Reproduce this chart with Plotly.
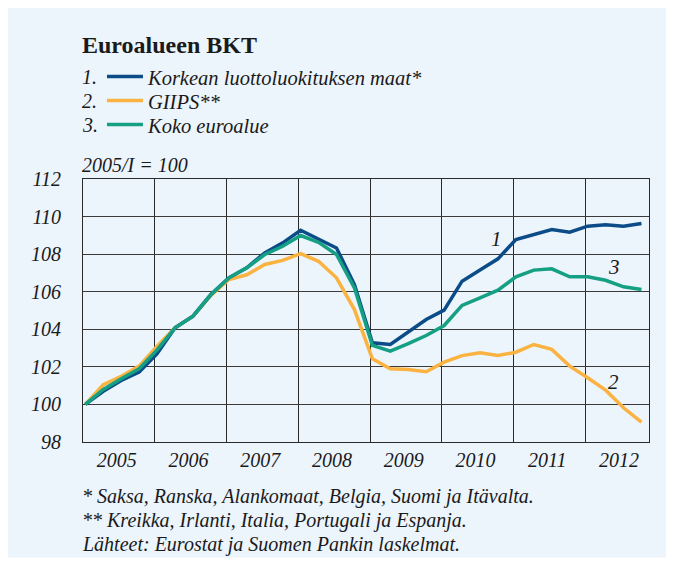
import plotly.graph_objects as go

quarters = list(range(32))  # 2005Q1 ... 2012Q4
years = ["2005", "2006", "2007", "2008", "2009", "2010", "2011", "2012"]

korkea = [100.0, 100.7, 101.28, 101.72, 102.7, 104.08, 104.7, 105.85,
          106.74, 107.27, 108.07, 108.6, 109.27, 108.81, 108.33, 106.38,
          103.28, 103.19, 103.85, 104.52, 105.02, 106.56, 107.15, 107.75,
          108.78, 109.04, 109.31, 109.17, 109.49, 109.56, 109.49, 109.63]
giips = [100.0, 101.05, 101.5, 102.04, 103.1, 104.08, 104.7, 105.8,
         106.65, 106.9, 107.45, 107.67, 108.03, 107.62, 106.74, 105.05,
         102.43, 101.9, 101.86, 101.74, 102.25, 102.6, 102.75, 102.6,
         102.78, 103.19, 102.93, 102.04, 101.42, 100.76, 99.82, 99.06]
koko = [100.0, 100.8, 101.37, 101.9, 102.9, 104.08, 104.7, 105.85,
        106.74, 107.27, 107.98, 108.42, 108.99, 108.63, 107.98, 106.2,
        103.14, 102.84, 103.24, 103.67, 104.2, 105.27, 105.67, 106.08,
        106.79, 107.15, 107.22, 106.79, 106.79, 106.61, 106.26, 106.12]

names = ["Korkean luottoluokituksen maat*", "GIIPS**", "Koko euroalue"]
colors = ["#0B4C88", "#FAB341", "#15A084"]

FONT = "Liberation Serif, DejaVu Serif, Times New Roman, serif"
BG = "#ECF4FC"
TXT = "#1a1a1a"

# page coordinates (the html body adds an 8px margin)
PL, PR, PT, PB = 82.5, 649.5, 179.3, 442.5
OFF = 8
W, Hfig = 674 - OFF, 565 - OFF


def X(absx):
    return (absx - PL) / (PR - PL)


def Y(absy):
    return (PB - absy) / (PB - PT)


fig = go.Figure()
# draw order: GIIPS, high-rating, whole euro area (green on top)
fig.add_trace(go.Scatter(x=quarters, y=giips, mode="lines", name=names[1],
                         line=dict(color=colors[1], width=3.5), legend="legend2"))
fig.add_trace(go.Scatter(x=quarters, y=korkea, mode="lines", name=names[0],
                         line=dict(color=colors[0], width=3.5), legend="legend"))
fig.add_trace(go.Scatter(x=quarters, y=koko, mode="lines", name=names[2],
                         line=dict(color=colors[2], width=3.5), legend="legend3"))

year_centers = [4 * k + 1.75 for k in range(len(years))]
year_bounds = [4 * k - 0.13 for k in range(len(years))]

LEG_X = 101.5
legfont = dict(family=FONT, size=20.5, style="italic", color=TXT)


def leg(rowy):
    return dict(x=X(LEG_X), y=Y(rowy), xanchor="left", yanchor="middle",
                bgcolor="rgba(0,0,0,0)", font=legfont, itemwidth=36)


fig.update_layout(
    width=W, height=Hfig,
    margin=dict(l=PL - OFF, r=W - (PR - OFF), t=PT - OFF, b=Hfig - (PB - OFF),
                autoexpand=False),
    paper_bgcolor="white",
    plot_bgcolor="rgba(0,0,0,0)",
    font=dict(family=FONT, color=TXT, size=18),
    showlegend=True,
    legend=leg(77),
    legend2=leg(101),
    legend3=leg(125),
    xaxis=dict(
        range=[-0.13, 31.42],
        tickmode="array", tickvals=year_centers, ticktext=years,
        showgrid=False, zeroline=False,
        ticks="outside", ticklen=0, tickcolor="rgba(0,0,0,0)",
        tickfont=dict(family=FONT, size=20, style="italic", color=TXT),
        showline=True, linecolor="#2a2a2a", linewidth=1.2, mirror=True,
        minor=dict(tickmode="array", tickvals=year_bounds, showgrid=True,
                   gridcolor="#2a2a2a", gridwidth=1, ticks=""),
    ),
    yaxis=dict(
        range=[98, 112], tickmode="array",
        tickvals=[98, 100, 102, 104, 106, 108, 110, 112],
        showgrid=True, gridcolor="#3a3a3a", gridwidth=1, zeroline=False,
        ticks="outside", ticklen=17, tickcolor="rgba(0,0,0,0)",
        tickfont=dict(family=FONT, size=20, style="italic", color=TXT),
        showline=True, linecolor="#2a2a2a", linewidth=1.2, mirror=True,
    ),
    shapes=[
        dict(type="rect", xref="paper", yref="paper",
             x0=X(7), x1=X(667), y0=Y(558), y1=Y(7),
             fillcolor=BG, line=dict(width=0), layer="below"),
    ],
)

ann = []


def txt(t, ax, ay, size, italic=True):
    f = dict(family=FONT, size=size, color=TXT)
    if italic:
        f["style"] = "italic"
    return dict(text=t, x=X(ax), y=Y(ay), xref="paper", yref="paper",
                xanchor="left", yanchor="middle", showarrow=False, font=f)


ann.append(txt("<b>Euroalueen BKT</b>", 79, 45, 24, italic=False))
for i, ypx in enumerate([77, 101, 125]):
    ann.append(txt(f"{i + 1}.", 79, ypx, 20))
ann.append(txt("2005/I = 100", 79, 165, 20))
foot = ["* Saksa, Ranska, Alankomaat, Belgia, Suomi ja Itävalta.",
        "** Kreikka, Irlanti, Italia, Portugali ja Espanja.",
        "Lähteet: Eurostat ja Suomen Pankin laskelmat."]
for t, ypx in zip(foot, [497, 521, 545]):
    ann.append(txt(t, 79, ypx, 20))
# series number labels
for t, xq, yv in [("1", 22.94, 108.78), ("3", 29.45, 107.29), ("2", 29.45, 101.17)]:
    ann.append(dict(text=t, x=xq, y=yv, xref="x", yref="y", showarrow=False,
                    xanchor="center", yanchor="middle",
                    font=dict(family=FONT, size=21, style="italic", color=TXT)))
fig.update_layout(annotations=ann)

fig.write_html("out.html")
